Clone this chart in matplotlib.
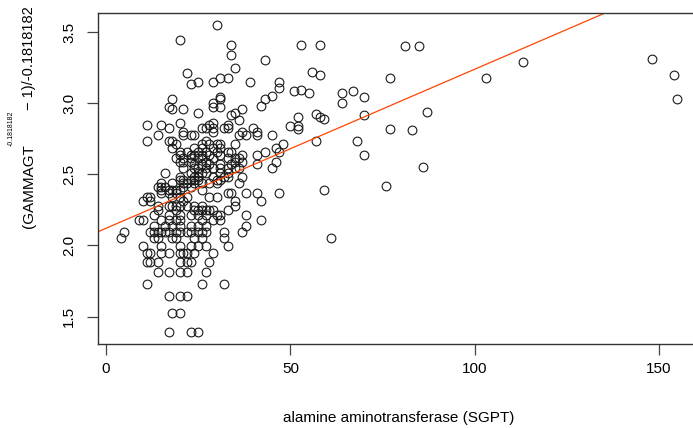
import matplotlib
matplotlib.use("Agg")
import matplotlib.pyplot as plt

plt.rcParams['font.family'] = ['Liberation Sans', 'DejaVu Sans']

# SGPT (x) and transformed GAMMAGT (y)
sgpt = [
    17, 23, 25,
    18, 20,
    17, 20, 22,
    11, 26, 32,
    14, 17, 20, 22, 27,
    11, 12, 14, 20, 22, 23, 28,
    11, 12, 15, 17, 20, 21, 22, 24, 29,
    10, 15, 20, 23, 25, 27, 33,
    4, 13, 14, 18, 19, 24, 26, 32,
    5, 12, 13, 14, 15, 16, 17, 19, 20, 22, 23, 25, 26, 27, 32, 37,
    13, 16, 18, 20, 23, 25, 27, 38,
    9, 10, 15, 17, 19, 20, 26, 29, 31, 42,
    13, 17, 20, 23, 25, 27, 30, 31, 38,
    14, 19, 24, 25, 26, 27, 28, 29, 33,
    14, 17, 18, 19, 20, 22, 24, 26, 35,
    10, 12, 21, 35, 42,
    11, 12, 18, 20, 22, 28, 30,
    15, 17, 19, 33, 34, 38, 41, 47,
    15, 17, 18, 19, 20, 26,
    14, 15, 16, 21, 23,
    15, 18, 21, 22, 24, 26, 28, 30, 36,
    20, 21, 23, 24, 25, 30, 31,
    20, 24, 25, 29, 32, 33, 37,
    16, 23, 25, 26, 27, 31, 33,
    21, 24, 25, 27, 29, 31, 33, 35, 36, 45,
    24, 26, 28, 31, 34, 41,
    20, 21, 23, 27, 35, 37, 46,
    19, 21, 23, 25, 26, 29, 33, 35, 36,
    20, 23, 24, 26, 28, 31, 37, 41,
    20, 22, 25, 27, 30, 33, 34, 43, 47,
    18, 24, 26, 29, 31, 46,
    19, 26, 28, 30, 31, 35, 48,
    11, 17, 18, 27, 57, 68,
    14, 21, 23, 24, 36, 38, 41, 45,
    21, 29, 37, 41, 83,
    17, 26, 27, 29, 32, 33, 40, 52, 77,
    11, 15, 28, 33, 50, 52,
    20, 29,
    36, 87,
    52, 58, 59,
    34, 70,
    25, 35, 57,
    18, 21, 37,
    17, 29, 31, 42,
    29, 64,
    18, 31, 43, 155,
    31, 70, 45,
    55, 64, 67,
    51, 53, 47,
    23, 25, 29, 39, 47,
    31, 33, 77, 103,
    22, 56, 58, 154,
    35, 113, 148, 43,
    34,
    34, 53, 58, 81, 85,
    20, 30,
    86, 61, 70, 76, 59,
]
gamma_t = [
    1.394, 1.394, 1.394,
    1.528, 1.528,
    1.642, 1.642, 1.642,
    1.731, 1.731, 1.731,
    1.813, 1.813, 1.813, 1.813, 1.813,
    1.884, 1.884, 1.884, 1.884, 1.884, 1.884, 1.884,
    1.945, 1.945, 1.945, 1.945, 1.945, 1.945, 1.945, 1.945, 1.945,
    1.998, 1.998, 1.998, 1.998, 1.998, 1.998, 1.998,
    2.050, 2.050, 2.050, 2.050, 2.050, 2.050, 2.050, 2.050,
    2.095, 2.095, 2.095, 2.095, 2.095, 2.095, 2.095, 2.095, 2.095, 2.095, 2.095, 2.095, 2.095, 2.095, 2.095, 2.095,
    2.137, 2.137, 2.137, 2.137, 2.137, 2.137, 2.137, 2.137,
    2.179, 2.179, 2.179, 2.179, 2.179, 2.179, 2.179, 2.179, 2.179, 2.179,
    2.214, 2.214, 2.214, 2.214, 2.214, 2.214, 2.214, 2.214, 2.214,
    2.249, 2.249, 2.249, 2.249, 2.249, 2.249, 2.249, 2.249, 2.249,
    2.280, 2.280, 2.280, 2.280, 2.280, 2.280, 2.280, 2.280, 2.280,
    2.310, 2.310, 2.310, 2.310, 2.310,
    2.340, 2.340, 2.340, 2.340, 2.340, 2.340, 2.340,
    2.366, 2.366, 2.366, 2.366, 2.366, 2.366, 2.366, 2.366,
    2.390, 2.390, 2.390, 2.390, 2.390, 2.390,
    2.413, 2.413, 2.413, 2.413, 2.413,
    2.441, 2.441, 2.441, 2.441, 2.441, 2.441, 2.441, 2.441, 2.441,
    2.460, 2.460, 2.460, 2.460, 2.460, 2.460, 2.460,
    2.483, 2.483, 2.483, 2.483, 2.483, 2.483, 2.483,
    2.507, 2.507, 2.507, 2.507, 2.507, 2.507, 2.507,
    2.542, 2.542, 2.542, 2.542, 2.542, 2.542, 2.542, 2.542, 2.542, 2.542,
    2.570, 2.570, 2.570, 2.570, 2.570, 2.570,
    2.589, 2.589, 2.589, 2.589, 2.589, 2.589, 2.589,
    2.612, 2.612, 2.612, 2.612, 2.612, 2.612, 2.612, 2.612, 2.612,
    2.636, 2.636, 2.636, 2.636, 2.636, 2.636, 2.636, 2.636,
    2.659, 2.659, 2.659, 2.659, 2.659, 2.659, 2.659, 2.659, 2.659,
    2.682, 2.682, 2.682, 2.682, 2.682, 2.682,
    2.713, 2.713, 2.713, 2.713, 2.713, 2.713, 2.713,
    2.736, 2.736, 2.736, 2.736, 2.736, 2.736,
    2.776, 2.776, 2.776, 2.776, 2.776, 2.776, 2.776, 2.776,
    2.800, 2.800, 2.800, 2.800, 2.809,
    2.823, 2.823, 2.823, 2.823, 2.823, 2.823, 2.823, 2.818, 2.818,
    2.844, 2.844, 2.844, 2.844, 2.842, 2.842,
    2.858, 2.858,
    2.882, 2.938,
    2.905, 2.905, 2.891,
    2.917, 2.917,
    2.933, 2.933, 2.926,
    2.959, 2.959, 2.959,
    2.975, 2.975, 2.975, 2.978,
    2.999, 2.999,
    3.027, 3.027, 3.031, 3.031,
    3.043, 3.043, 3.048,
    3.074, 3.074, 3.083,
    3.085, 3.092, 3.106,
    3.137, 3.150, 3.150, 3.150, 3.150,
    3.179, 3.179, 3.177, 3.175,
    3.210, 3.219, 3.198, 3.200,
    3.245, 3.289, 3.310, 3.303,
    3.336,
    3.409, 3.409, 3.409, 3.404, 3.404,
    3.446, 3.547,
    2.553, 2.050, 2.633, 2.416, 2.390,
]

# fitted line
intercept = 2.1205
slope = 0.01118

fig = plt.figure(figsize=(6.93, 4.28), dpi=100)
ax = fig.add_axes([0.1418, 0.1963, 0.8677, 0.7734])

ax.plot(sgpt, gamma_t, linestyle='none', marker='o', ms=6.3,
        mfc='none', mec='#1a1a1a', mew=0.8)
ax.axline((0, intercept), slope=slope, color='orangered', lw=0.9)

ax.set_xlim(-2.1, 161.0)
ax.set_ylim(1.307, 3.634)
ax.set_xticks([0, 50, 100, 150])
ax.set_yticks([1.5, 2.0, 2.5, 3.0, 3.5])
ax.set_yticklabels(['1.5', '2.0', '2.5', '3.0', '3.5'])

for s in ax.spines.values():
    s.set_color('#333333')
    s.set_linewidth(1.0)
ax.tick_params(length=8, width=0.9, color='#444444', labelsize=11)
ax.tick_params(axis='x', pad=5)
ax.tick_params(axis='y', labelrotation=90, pad=8)
for lbl in ax.get_yticklabels():
    lbl.set_va('center')

fig.text(0.5758, 0.023, 'alamine aminotransferase (SGPT)', ha='center',
         va='center', fontsize=11)

# y label in three pieces so the exponent can be small, like R's plotmath
r = fig.canvas.get_renderer()
inv = fig.transFigure.inverted()
t1 = fig.text(0.0418, 0.4673, '(GAMMAGT', rotation=90, ha='center',
              va='bottom', fontsize=11)
top1 = inv.transform(t1.get_window_extent(r).get_points())[1, 1]
t2 = fig.text(0.0418 - 0.026, top1 - 0.004, '-0.1818182', rotation=90,
              ha='center', va='bottom', fontsize=5)
top2 = inv.transform(t2.get_window_extent(r).get_points())[1, 1]
fig.text(0.0418, top2 + 0.001, '\u2212 1)/-0.1818182', rotation=90,
         ha='center', va='bottom', fontsize=10.5)

fig.savefig('out.png', dpi=100)
